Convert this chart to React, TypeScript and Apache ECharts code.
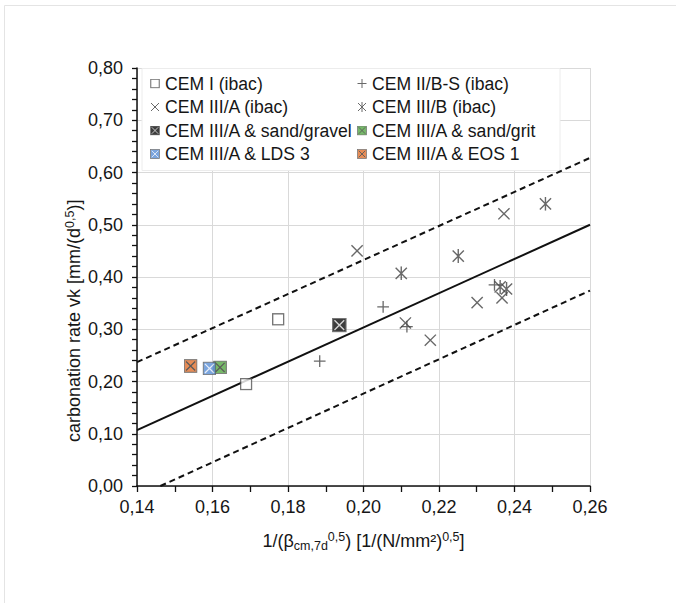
import React, { useEffect, useRef } from "react";
import * as echarts from "echarts";

// ---- data ----
const cem1X = [0.1774, 0.1689];
const cem1Y = [0.319, 0.195];
const cem2bsX = [0.1884, 0.2052, 0.2115, 0.2347];
const cem2bsY = [0.239, 0.343, 0.305, 0.385];
const cem3aX = [0.1983, 0.2111, 0.2177, 0.2301, 0.2367, 0.2372];
const cem3aY = [0.45, 0.312, 0.279, 0.351, 0.36, 0.521];
const cem3bX = [0.21, 0.2251, 0.2362, 0.2379, 0.2482];
const cem3bY = [0.407, 0.44, 0.381, 0.377, 0.54];
const gravelX = [0.1936];
const gravelY = [0.308];
const gritX = [0.162];
const gritY = [0.227];
const ldsX = [0.1592];
const ldsY = [0.225];
const eosX = [0.1542];
const eosY = [0.2297];
const fitX = [0.14, 0.26];
const fitY = [0.107, 0.5];
const upperX = [0.14, 0.26];
const upperY = [0.237, 0.628];
const lowerX = [0.1462, 0.26];
const lowerY = [0, 0.374];

const names = [
  "CEM I (ibac)",
  "CEM II/B-S (ibac)",
  "CEM III/A (ibac)",
  "CEM III/B (ibac)",
  "CEM III/A & sand/gravel",
  "CEM III/A & sand/grit",
  "CEM III/A & LDS 3",
  "CEM III/A & EOS 1",
];

const pts = (xs: number[], ys: number[]) => xs.map((x, i) => [x, ys[i]]);

const mk = (inner: string) =>
  "image://data:image/svg+xml;charset=utf-8," +
  encodeURIComponent(
    `<svg xmlns="http://www.w3.org/2000/svg" width="40" height="40" viewBox="0 0 20 20">${inner}</svg>`
  );

const symOpen = mk('<rect x="1.5" y="1.5" width="17" height="17" fill="#fff" stroke="#555" stroke-width="2.2"/>');
const symPlus = mk('<path d="M10 1V19M1 10H19" stroke="#444" stroke-width="2" fill="none"/>');
const symCross = mk('<path d="M2 2L18 18M18 2L2 18" stroke="#444" stroke-width="2" fill="none"/>');
const symStar = mk('<path d="M2 2L18 18M18 2L2 18M10 0V20" stroke="#444" stroke-width="2" fill="none"/>');
const symFilled = (fill: string, x: string) =>
  mk(
    `<rect x="1" y="1" width="18" height="18" fill="${fill}" stroke="#555" stroke-width="1.5"/><path d="M3.5 3.5L16.5 16.5M16.5 3.5L3.5 16.5" stroke="${x}" stroke-width="1.8"/>`
  );
const symGravel = symFilled("#0d0d0d", "#c8c8c8");
const symGrit = symFilled("#55a844", "#333");
const symLds = symFilled("#5b8fd6", "#dfe8f6");
const symEos = symFilled("#e2702c", "#333");

const FONT = "Liberation Sans, Arial, sans-serif";
const TXT = "#161616";
const lbl = (v: number) => v.toFixed(2).replace(".", ",");

export default function App() {
  const ref = useRef<HTMLDivElement>(null);
  useEffect(() => {
    if (!ref.current) return;
    const chart = echarts.init(ref.current, undefined, { renderer: "svg" });
    const scatter = (name: string, xs: number[], ys: number[], symbol: string, size: number, z = 3) => ({
      name,
      type: "scatter",
      data: pts(xs, ys),
      symbol,
      symbolSize: size,
      z,
    });
    const line = (xs: number[], ys: number[], dashed: boolean) => ({
      type: "line",
      data: pts(xs, ys),
      symbol: "none",
      silent: true,
      z: 2,
      lineStyle: { color: "#111", width: 2, type: dashed ? [6, 4] : "solid" },
    });
    const legendBase = {
      orient: "vertical",
      top: 74,
      itemWidth: 10,
      itemHeight: 10,
      itemGap: 4.5,
      padding: 0,
      selectedMode: false,
      textStyle: { fontSize: 17.6, lineHeight: 19, color: TXT, fontFamily: FONT },
    };
    const richY = {
      a: { fontSize: 18, lineHeight: 22, color: TXT, fontFamily: FONT },
      sup: { fontSize: 12.5, lineHeight: 12, verticalAlign: "top", color: TXT, fontFamily: FONT },
    };
    chart.setOption({
      animation: false,
      backgroundColor: "#fff",
      textStyle: { fontFamily: FONT },
      grid: { left: 137, right: 86, top: 68, bottom: 117, containLabel: false },
      graphic: [
        {
          type: "rect",
          shape: { x: 4.5, y: 5.5, width: 700, height: 700 },
          style: { fill: "none", stroke: "#e4e4e4", lineWidth: 1 },
          silent: true,
        },
        {
          type: "rect",
          z: 1,
          shape: { x: 142, y: 68.5, width: 418, height: 102 },
          style: { fill: "#fff", stroke: "#ececec", lineWidth: 1 },
          silent: true,
        },
        {
          type: "text",
          x: 74,
          y: 442,
          rotation: Math.PI / 2,
          style: {
            text: "{a|carbonation rate vk [mm/(d}{sup|0,5}{a|)]}",
            rich: richY,
            align: "left",
            verticalAlign: "middle",
            fill: TXT,
          },
          silent: true,
        },
      ],
      legend: [
        { ...legendBase, left: 150, data: [
          { name: names[0], icon: symOpen },
          { name: names[2], icon: symCross },
          { name: names[4], icon: symGravel },
          { name: names[6], icon: symLds },
        ] },
        { ...legendBase, left: 357, data: [
          { name: names[1], icon: symPlus },
          { name: names[3], icon: symStar },
          { name: names[5], icon: symGrit },
          { name: names[7], icon: symEos },
        ] },
      ],
      xAxis: {
        type: "value",
        min: 0.14,
        max: 0.26,
        interval: 0.02,
        name: "{a|1/(β}{sub|cm,7d}{sup|0,5}{a|) [1/(N/mm²)}{sup|0,5}{a|]}",
        nameLocation: "middle",
        nameGap: 44,
        nameTextStyle: {
          color: TXT,
          rich: {
            a: { fontSize: 18, lineHeight: 22, color: TXT, fontFamily: FONT },
            sub: { fontSize: 12.5, lineHeight: 12, verticalAlign: "bottom", color: TXT, fontFamily: FONT },
            sup: { fontSize: 12.5, lineHeight: 12, verticalAlign: "top", color: TXT, fontFamily: FONT },
          },
        },
        axisLine: { show: true, onZero: false, lineStyle: { color: "#111", width: 1.5 } },
        axisTick: { show: true, length: 6, lineStyle: { color: "#111", width: 1.3 } },
        minorTick: { show: true, splitNumber: 2, length: 6, lineStyle: { color: "#111", width: 1.3 } },
        axisLabel: { formatter: lbl, fontSize: 18, color: TXT, margin: 12, fontFamily: FONT },
        splitLine: { show: true, lineStyle: { color: "#d9d9d9", width: 1 } },
      },
      yAxis: {
        type: "value",
        min: 0,
        max: 0.8,
        interval: 0.1,
        axisLine: { show: true, onZero: false, lineStyle: { color: "#111", width: 1.5 } },
        axisTick: { show: true, length: 5, lineStyle: { color: "#111", width: 1.3 } },
        minorTick: { show: true, splitNumber: 5, length: 5, lineStyle: { color: "#111", width: 1.3 } },
        axisLabel: { formatter: lbl, fontSize: 18, color: TXT, margin: 14, fontFamily: FONT },
        splitLine: { show: true, lineStyle: { color: "#d9d9d9", width: 1 } },
      },
      series: [
        line(fitX, fitY, false),
        line(upperX, upperY, true),
        line(lowerX, lowerY, true),
        scatter(names[0], cem1X, cem1Y, symOpen, 13),
        scatter(names[1], cem2bsX, cem2bsY, symPlus, 13),
        scatter(names[2], cem3aX, cem3aY, symCross, 14),
        scatter(names[3], cem3bX, cem3bY, symStar, 14),
        scatter(names[4], gravelX, gravelY, symGravel, 15),
        scatter(names[5], gritX, gritY, symGrit, 14, 3),
        scatter(names[6], ldsX, ldsY, symLds, 14, 4),
        scatter(names[7], eosX, eosY, symEos, 14),
      ],
    });
    return () => chart.dispose();
  }, []);
  return (
    <div
      ref={ref}
      style={{ position: "fixed", left: 0, top: 0, width: 676, height: 603, background: "#fff" }}
    />
  );
}
